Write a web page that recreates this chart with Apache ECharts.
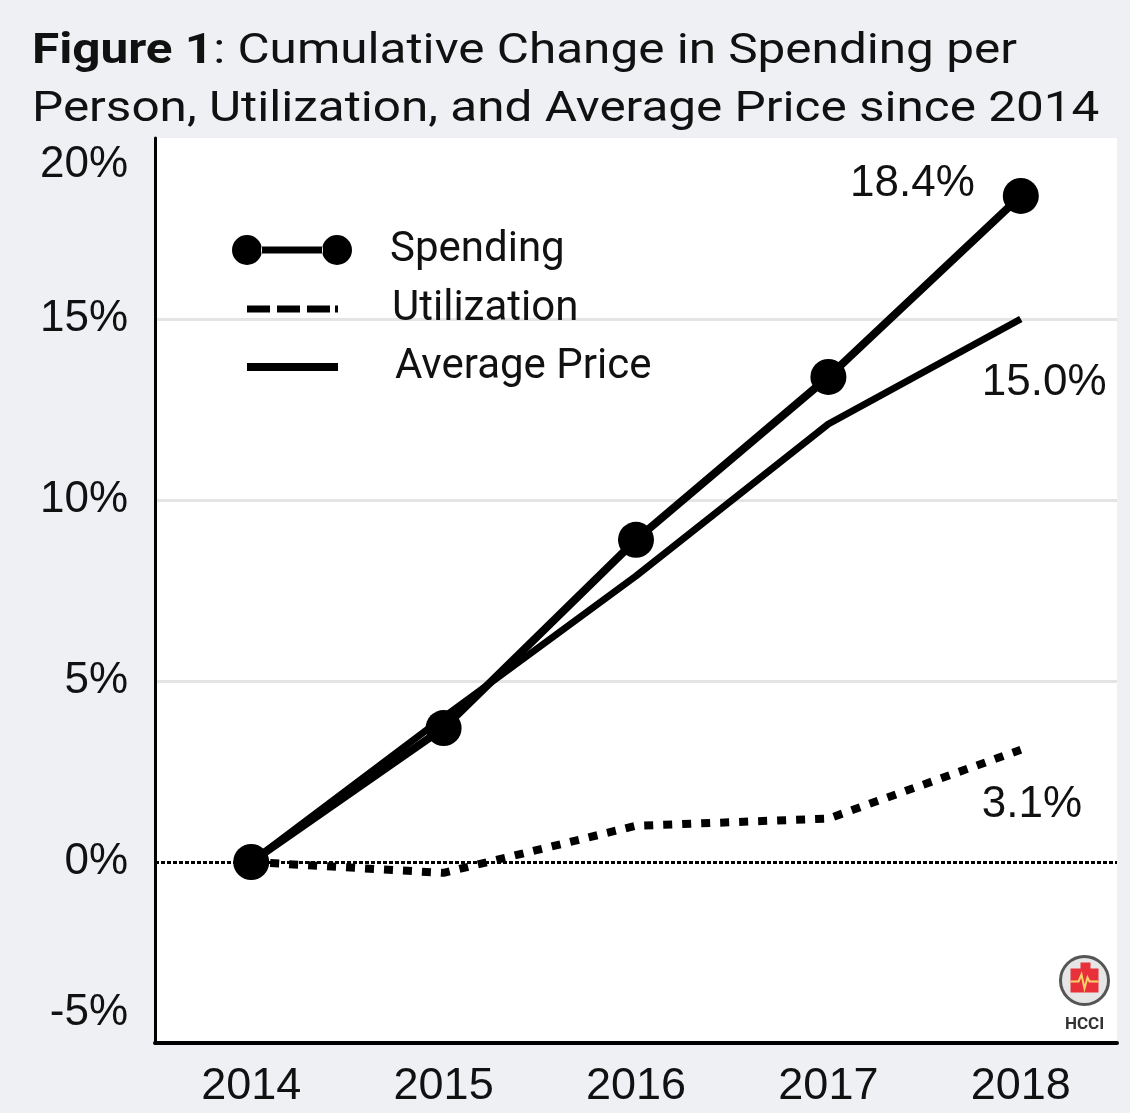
<!DOCTYPE html>
<html>
<head>
<meta charset="utf-8">
<script src="https://cdn.jsdelivr.net/npm/echarts@6/dist/echarts.min.js"></script>
<style>
  html, body { margin: 0; padding: 0; background: #eef0f3; }
  #chart { width: 1130px; height: 1113px; }
</style>
</head>
<body>
<div id="chart"></div>
<script>
// data
const years = ['2014', '2015', '2016', '2017', '2018'];
const spending = [0, 3.7, 8.9, 13.4, 18.4];
const utilization = [0, -0.3, 1.0, 1.2, 3.1];
const avgPrice = [0, 4.0, 7.9, 12.1, 15.0];
const yTicks = [-5, 0, 5, 10, 15, 20];

const AXIS_FONT = '"Liberation Sans", Arial, sans-serif';
const pct = (p) => p.value.toFixed(1) + '%';

const chart = echarts.init(document.getElementById('chart'));

// legend icons
const iconSpending = 'path://M0,15a15,15 0 1,0 30,0a15,15 0 1,0 -30,0Z M90,15a15,15 0 1,0 30,0a15,15 0 1,0 -30,0Z M29,11.5L91,11.5L91,18.5L29,18.5Z';
const iconUtil = 'path://M0,0L23,0L23,7L0,7Z M30,0L53,0L53,7L30,7Z M60,0L83,0L83,7L60,7Z M88,0L91,0L91,7L88,7Z';
const iconPrice = 'path://M0,0L91,0L91,8L0,8Z';

const legendBase = {
  orient: 'vertical',
  selectedMode: false,
  itemStyle: { color: '#000', borderWidth: 0 },
  textStyle: { fontFamily: 'Roboto, sans-serif', fontSize: 42, color: '#111', lineHeight: 42 }
};

chart.setOption({
  backgroundColor: '#eef0f3',
  animation: false,
  legend: [
    Object.assign({}, legendBase, {
      left: 227, top: 224, data: [{ name: 'Spending', icon: iconSpending }],
      itemWidth: 120, itemHeight: 30,
      textStyle: Object.assign({}, legendBase.textStyle, { padding: [0, 0, 0, 33] })
    }),
    Object.assign({}, legendBase, {
      left: 242, top: 283, data: [{ name: 'Utilization', icon: iconUtil }],
      itemWidth: 91, itemHeight: 7,
      textStyle: Object.assign({}, legendBase.textStyle, { padding: [0, 0, 0, 49] })
    }),
    Object.assign({}, legendBase, {
      left: 242, top: 341, data: [{ name: 'Average Price', icon: iconPrice }],
      itemWidth: 91, itemHeight: 8,
      textStyle: Object.assign({}, legendBase.textStyle, { padding: [0, 0, 0, 52] })
    })
  ],
  grid: {
    left: 155, right: 13, top: 138, bottom: 70,
    show: true, backgroundColor: '#ffffff', borderWidth: 0
  },
  xAxis: {
    type: 'category',
    data: years,
    boundaryGap: true,
    axisLine: { onZero: false, lineStyle: { color: '#000', width: 4 } },
    axisTick: { show: false },
    axisLabel: { color: '#111', fontSize: 45, fontFamily: AXIS_FONT, margin: 21 }
  },
  yAxis: {
    type: 'value',
    min: yTicks[0],
    max: yTicks[yTicks.length - 1],
    interval: 5,
    axisLine: { show: true, lineStyle: { color: '#000', width: 3 } },
    axisTick: { show: false },
    splitLine: {
      show: true,
      lineStyle: {
        width: 3,
        color: ['rgba(0,0,0,0)', 'rgba(0,0,0,0)', '#e4e4e4', '#e4e4e4', '#e4e4e4', 'rgba(0,0,0,0)']
      }
    },
    axisLabel: {
      color: '#111',
      fontSize: 44,
      fontFamily: AXIS_FONT,
      margin: 27,
      formatter: (v) => {
        if (v === yTicks[yTicks.length - 1]) return '{top|' + v + '%}';
        if (v === yTicks[0]) return '{bot|' + v + '%}';
        return v + '%';
      },
      rich: {
        top: { fontSize: 44, fontFamily: AXIS_FONT, color: '#111', padding: [54, 0, 0, 0] },
        bot: { fontSize: 44, fontFamily: AXIS_FONT, color: '#111', padding: [0, 0, 60, 0] }
      }
    }
  },
  series: [
    {
      name: 'Average Price',
      type: 'line',
      data: avgPrice,
      showSymbol: false,
      silent: true,
      color: '#000',
      lineStyle: { color: '#000', width: 7 },
      endLabel: {
        show: true, formatter: pct, distance: 0, align: 'left', verticalAlign: 'middle',
        offset: [-39, 64], fontSize: 44, fontFamily: AXIS_FONT, color: '#111'
      }
    },
    {
      name: 'Utilization',
      type: 'line',
      data: utilization,
      showSymbol: false,
      silent: true,
      color: '#000',
      lineStyle: { color: '#000', width: 8, type: [9, 10], cap: 'butt' },
      endLabel: {
        show: true, formatter: pct, distance: 0, align: 'left', verticalAlign: 'middle',
        offset: [-39, 55], fontSize: 44, fontFamily: AXIS_FONT, color: '#111'
      },
      markLine: {
        silent: true,
        symbol: ['none', 'none'],
        label: { show: false },
        lineStyle: { color: '#000', width: 3, type: [4, 2] },
        data: [{ yAxis: 0 }]
      }
    },
    {
      name: 'Spending',
      type: 'line',
      data: spending,
      symbol: 'circle',
      symbolSize: 36,
      silent: true,
      color: '#000',
      itemStyle: { color: '#000', borderWidth: 0 },
      lineStyle: { color: '#000', width: 8 },
      endLabel: {
        show: true, formatter: pct, distance: 0, align: 'right', verticalAlign: 'middle',
        offset: [-46, -12], fontSize: 44, fontFamily: AXIS_FONT, color: '#111'
      }
    }
  ],
  graphic: [
    {
      // title, slightly widened like the original
      type: 'text', left: 32, top: 23, scaleX: 1.15, originX: 0,
      style: {
        text: '{b|Figure 1}: Cumulative Change in Spending per\nPerson, Utilization, and Average Price since 2014',
        fontFamily: 'Roboto, sans-serif', fontSize: 43, lineHeight: 58, fill: '#111',
        rich: {
          b: { fontFamily: 'Roboto, sans-serif', fontSize: 43, fontWeight: 'bold', fill: '#111', lineHeight: 58 }
        }
      }
    },
    {
      type: 'group', right: 20, bottom: 80,
      children: [
        { type: 'circle', shape: { cx: 26, cy: 26, r: 24 }, style: { fill: '#e6e6e6', stroke: '#555', lineWidth: 3 } },
        { type: 'rect', shape: { x: 12, y: 14, width: 28, height: 24 }, style: { fill: '#e8303a' } },
        { type: 'rect', shape: { x: 22, y: 8, width: 10, height: 8 }, style: { fill: '#e8303a' } },
        { type: 'polyline', shape: { points: [[12, 27], [20, 27], [23, 20], [26, 34], [29, 23], [31, 27], [40, 27]] }, style: { stroke: '#f5d36a', lineWidth: 2, fill: null } },
        { type: 'text', x: 26, y: 70, style: { text: 'HCCI', fontSize: 17, fontWeight: 'bold', fontFamily: 'Roboto, sans-serif', fill: '#333', align: 'center', verticalAlign: 'middle' } }
      ]
    }
  ]
});
</script>
</body>
</html>
